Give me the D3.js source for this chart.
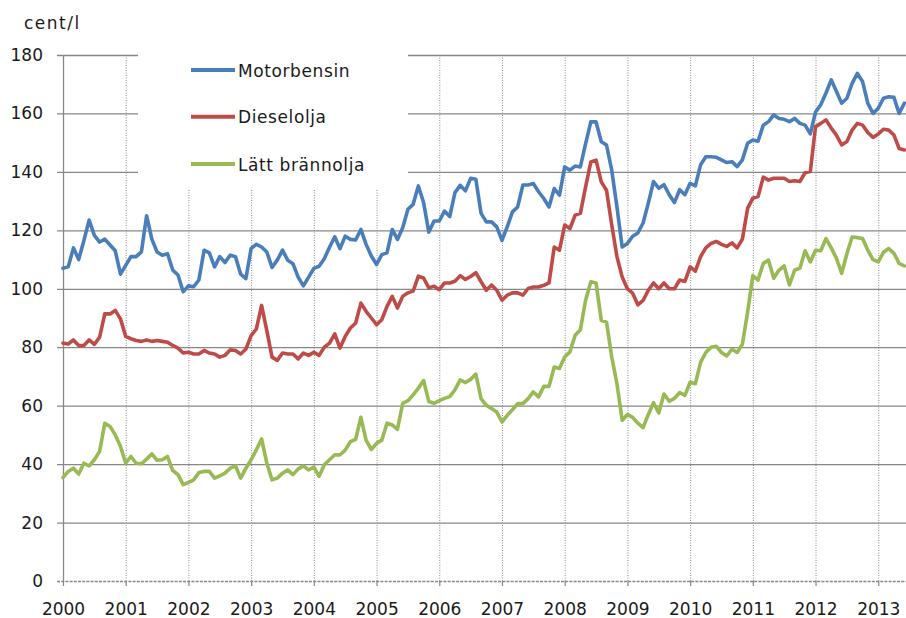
<!DOCTYPE html>
<html>
<head>
<meta charset="utf-8">
<script src="https://cdn.jsdelivr.net/npm/d3@7"></script>
<style>
  html, body { margin: 0; padding: 0; background: #fff; }
  svg { display: block; }
  text { font-family: "DejaVu Sans", Verdana, sans-serif; fill: #1a1a1a; }
</style>
</head>
<body>
<svg id="chart" width="906" height="618"></svg>
<script>
// ---- Data (monthly, Jan 2000 – Jun 2013), cent/l ----
const seriesNames = ["Motorbensin", "Dieselolja", "Lätt brännolja"];
const seriesColors = ["#4A7EBB", "#BE4B48", "#98B954"];
const yearLabels = ["2000","2001","2002","2003","2004","2005","2006","2007","2008","2009","2010","2011","2012","2013"];
const yTicks = [0, 20, 40, 60, 80, 100, 120, 140, 160, 180];
const yUnit = "cent/l";

const motorbensin = [
  107,107.5,114,110,116.5,123.5,118.3,116,117,115,113,105,
  108,111,111,112.6,125,117,112.6,111.5,112,106.4,104.7,99,
  101,100.7,103,113.2,112.3,107.5,111,109,111.5,111,105,103.5,
  113.8,115.2,114.3,112.6,107.3,109.8,113.2,109.8,108.6,104,101,104,
  107,107.7,110.3,114.2,117.8,113.7,118,116.9,116.7,120.3,115.2,111.2,
  108.3,111.7,112.3,120.3,116.9,120.9,127.2,128.9,135.2,129.5,119.4,123.2,
  123.2,126.6,124.7,132.9,135.4,133.5,137.8,137.5,125.8,122.9,122.9,121.2,
  116.6,121.2,126.3,128,135.5,135.5,136,133.2,130.9,128,134.3,132,
  141.7,140.6,142,141.7,149.7,157.1,157.1,150.3,149.2,140.6,128,114.3,
  115.5,118,119.1,122.5,129.3,136.7,134.4,135.6,132.2,129.5,133.9,132.2,
  136.1,135.2,142.4,145.2,145.2,145,144.1,143.2,143.5,141.8,144.1,149.8,
  150.9,150.5,156,157.2,159.5,158.3,158,157.2,158.3,156.6,156,153,
  160.5,163,167,171.5,167.5,163.5,165.2,170.3,173.7,170.9,163.5,160,
  161.8,165.2,165.7,165.5,160,163.5
];
const dieselolja = [
  81.4,81.1,82.5,80.6,80.6,82.5,81,83.4,91.4,91.4,92.6,89.7,
  83.7,82.9,82.3,82,82.5,82,82.3,82,81.7,80.6,79.7,78,
  78.3,77.7,77.7,78.9,78,77.7,76.6,77.2,79.1,78.9,77.7,79.4,
  84,86.3,94.3,85.7,76.6,75.5,78,77.7,77.7,76,78,77.2,
  78.3,77.2,80,81.4,84.6,79.7,83.7,86.6,88.3,95.1,92.3,90,
  87.7,89.4,94,97.4,93.4,97.4,98.6,99.2,104.3,103.7,100.3,100.9,
  99.7,102,102,102.6,104.5,103.2,104.2,105.5,102.4,99.5,101.3,99.5,
  96.1,97.8,98.6,98.6,97.8,100.1,100.6,100.6,101.2,102,114.3,113.2,
  121.8,120.6,125.2,125.8,134.9,143.4,144,136.6,133.7,121.8,111,104,
  100,98.5,94.5,96,99.5,102,100,102,100,100,103,102.5,
  107.5,106,111,114,115.5,116.2,115.2,114.5,115.7,114,117,127.5,
  131,131.6,138.2,137.2,137.8,137.8,137.8,136.7,137,136.7,139.7,140.1,
  155.5,156.6,157.8,155,152.6,149.2,150.4,154.3,156.6,156,153.5,151.8,
  153,154.6,154.3,152.6,148,147.5
];
const lattBrannolja = [
  35.4,37.5,38.6,36.6,40.3,39.4,41.5,44.3,54,52.9,50,46,
  40.3,42.6,40.3,40.1,41.7,43.5,41.3,41.5,42.6,37.8,36.4,33,
  33.7,34.6,37.1,37.5,37.5,35.2,36,36.9,38.6,39.4,35.2,38.6,
  41.5,44.9,48.6,40.3,34.6,35.2,36.9,38,36.4,38.3,39.4,38,
  39,35.8,39.8,41.5,43.2,43.1,44.8,47.7,48.5,56,48.2,45,
  47.1,48.2,54,53.4,51.9,60.8,61.7,63.7,66,68.6,61.4,60.8,
  61.7,62.5,63.1,65.4,68.8,67.9,69,70.8,62.4,60.1,59,57.8,
  54.4,56.7,58.6,60.7,60.7,62.4,64.7,63,66.6,66.6,73.2,72.7,
  76.7,78.4,84.1,86,96.1,102.4,102,89.2,88.6,76.7,67.5,55,
  57,56,54,52.5,57,61,57.5,64,61.5,62.5,64.5,63.5,
  68,67.5,74.8,78.2,80,80.3,78.2,77,79.3,78.2,81,92,
  104.5,103,108.7,109.8,103.6,106.4,107.8,101.3,106.4,107,113,109.2,
  113.2,113,117.2,114,110.4,105.3,112,117.7,117.5,117.2,113.2,110,
  109.2,112.5,113.8,112.1,108.7,107.8
];
const seriesValues = [motorbensin, dieselolja, lattBrannolja];

// ---- Layout ----
const W = 906, H = 618;
const plotLeft = 63, plotTop = 55, plotBottom = 581, plotRight = 906;
const monthPx = 5.226;
const nMonths = motorbensin.length;

const svg = d3.select("#chart");

const x = d3.scaleLinear().domain([0, nMonths - 1]).range([plotLeft, plotLeft + (nMonths - 1) * monthPx]);
const y = d3.scaleLinear().domain([0, 180]).range([plotBottom, plotTop]);
const yearIdx = yearLabels.map((_, i) => i * 12);

const gridColor = "#878787";

// horizontal gridlines + y axis ticks
const yGrid = svg.append("g")
  .attr("transform", `translate(${plotLeft},0)`)
  .call(d3.axisLeft(y).tickValues(yTicks.filter(v => v > 0)).tickSize(-(plotRight - plotLeft)).tickFormat(""));
yGrid.select(".domain").remove();
yGrid.selectAll("line").attr("stroke", gridColor).attr("stroke-width", 1.3).attr("x1", -6);

// vertical dotted year lines
const xGrid = svg.append("g")
  .attr("transform", `translate(0,${plotBottom})`)
  .call(d3.axisBottom(x).tickValues(yearIdx.slice(1)).tickSize(-(plotBottom - plotTop)).tickFormat(""));
xGrid.select(".domain").remove();
xGrid.selectAll("line").attr("stroke", "#8a8a8a").attr("stroke-width", 1).attr("stroke-dasharray", "1,1.5");

// x axis (dashed baseline) with tick marks and labels
const xAxis = svg.append("g")
  .attr("transform", `translate(0,${plotBottom})`)
  .call(d3.axisBottom(x).tickValues(yearIdx).tickSize(5).tickPadding(17).tickFormat((d, i) => yearLabels[i]));
xAxis.select(".domain").attr("d", `M${plotLeft - 6},0.5H${plotRight}`).attr("stroke", gridColor).attr("stroke-width", 1.3).attr("stroke-dasharray", "3,1.2");
xAxis.selectAll("line").attr("stroke", gridColor).attr("stroke-width", 1.2);
xAxis.selectAll("text").attr("font-size", 17).attr("fill", "#1a1a1a").attr("font-family", "DejaVu Sans");

// y axis line + labels
const yAxis = svg.append("g")
  .attr("transform", `translate(${plotLeft},0)`)
  .call(d3.axisLeft(y).tickValues(yTicks).tickSize(0).tickPadding(20).tickFormat(d3.format("d")));
yAxis.select(".domain").attr("stroke", gridColor).attr("stroke-width", 1.3);
yAxis.selectAll("text").attr("font-size", 17).attr("fill", "#1a1a1a").attr("font-family", "DejaVu Sans");

// unit label
svg.append("text").attr("x", 24).attr("y", 29).attr("font-size", 17).attr("letter-spacing", "1.5px").text(yUnit);

// legend box (white, covers gridlines)
const legend = svg.append("g");
legend.append("rect").attr("x", 138).attr("y", 50).attr("width", 270).attr("height", 139).attr("fill", "#fff");
const legendY = [70, 116.7, 164];
seriesNames.forEach((name, i) => {
  legend.append("line").attr("x1", 191).attr("x2", 235).attr("y1", legendY[i]).attr("y2", legendY[i])
    .attr("stroke", seriesColors[i]).attr("stroke-width", 4);
  legend.append("text").attr("x", 238).attr("y", legendY[i] + 6.5).attr("font-size", 17)
    .attr("letter-spacing", "0.6px").text(name);
});

// lines
const line = d3.line().x((d, i) => x(i)).y(d => y(d));
seriesValues.forEach((vals, i) => {
  svg.append("path").datum(vals).attr("d", line)
    .attr("fill", "none").attr("stroke", seriesColors[i]).attr("stroke-width", 3.6)
    .attr("stroke-linejoin", "round").attr("stroke-linecap", "round");
});
</script>
</body>
</html>
